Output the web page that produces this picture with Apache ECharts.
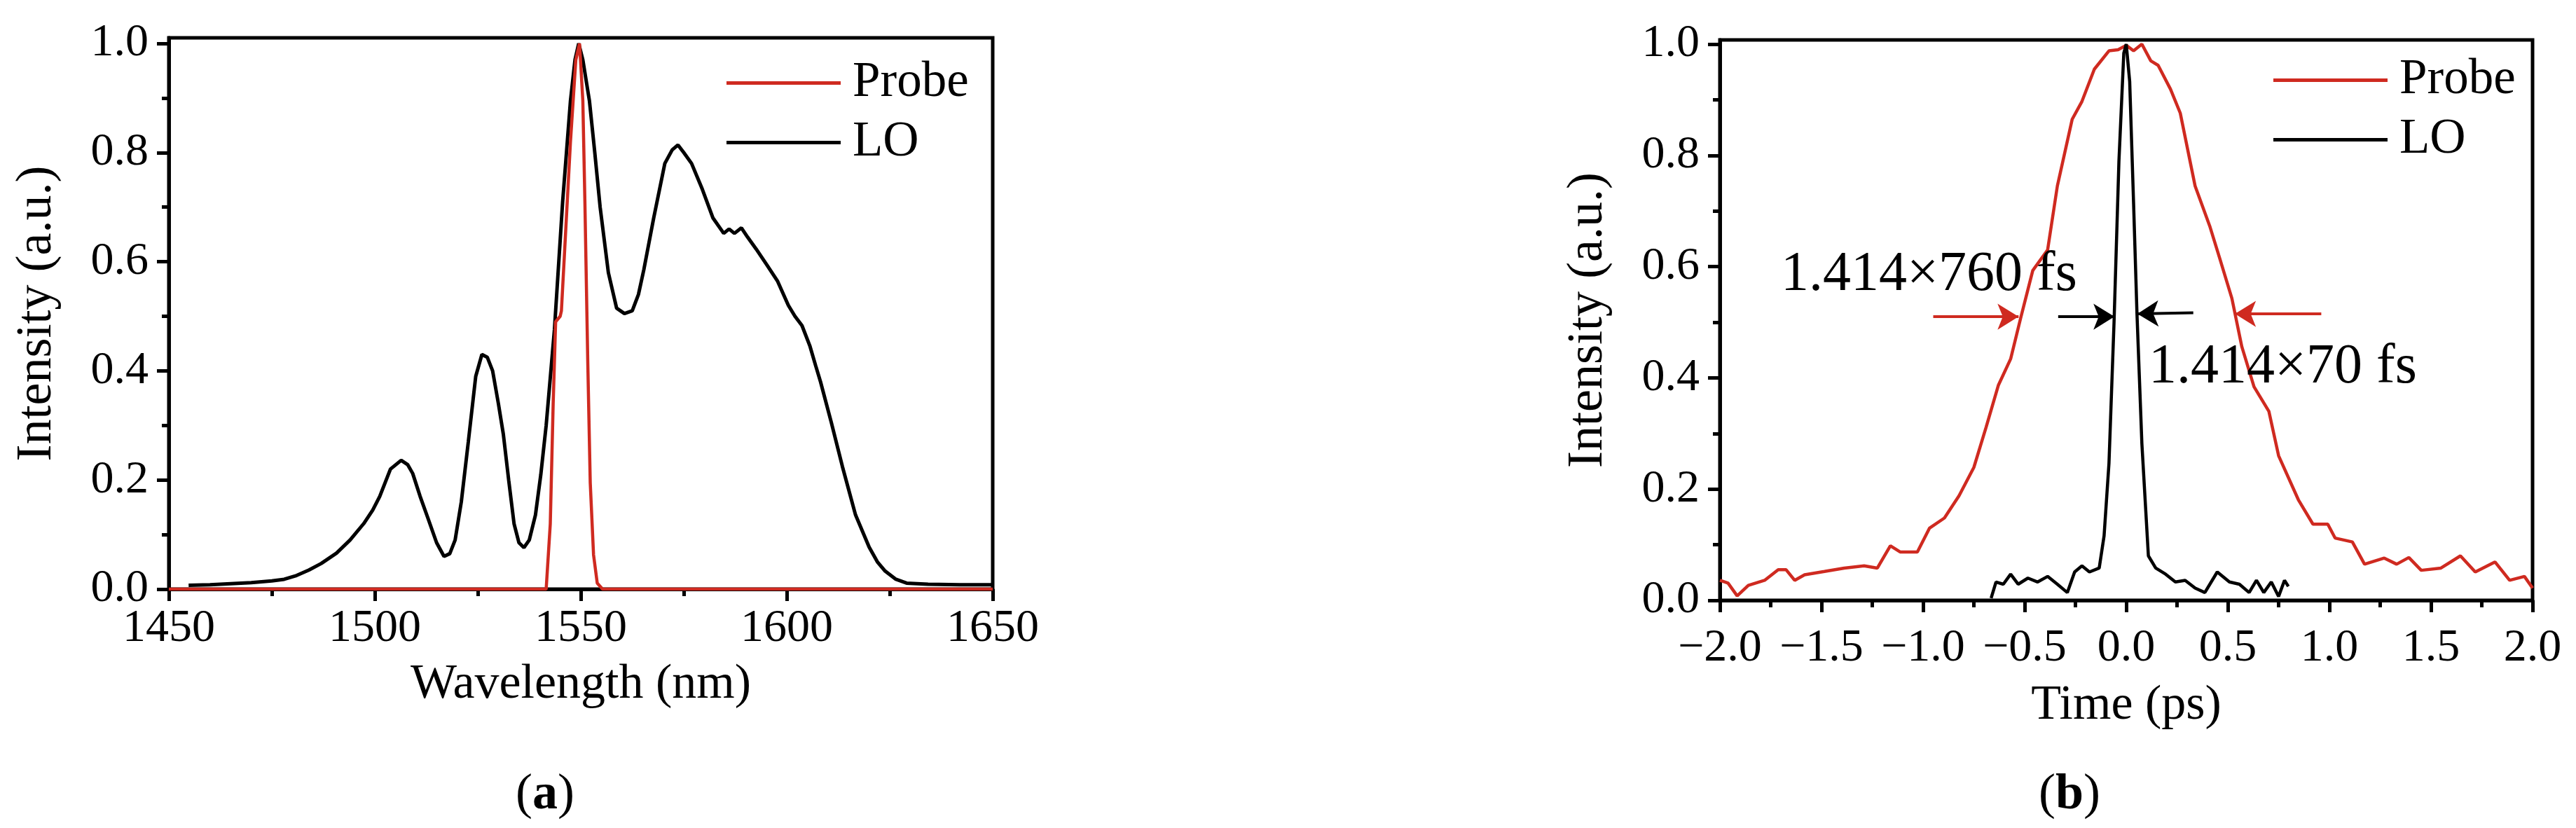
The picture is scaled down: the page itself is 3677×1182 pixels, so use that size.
<!DOCTYPE html>
<html>
<head>
<meta charset="utf-8">
<script src="https://cdn.jsdelivr.net/npm/echarts@6/dist/echarts.min.js"></script>
<style>
  html, body { margin: 0; padding: 0; background: #fff; }
  #chart { width: 3677px; height: 1182px; }
</style>
</head>
<body>
<div id="chart"></div>
<script>
// (a) spectra: [wavelength nm, intensity]
var spectrumLO = [
  [1454.8, 0.007], [1460, 0.008], [1465, 0.01], [1470, 0.012], [1475, 0.015], [1478, 0.018],
  [1481, 0.025], [1484, 0.035], [1487, 0.047], [1490.7, 0.066], [1494, 0.09], [1497.3, 0.12],
  [1499.5, 0.145], [1501.2, 0.17], [1503.8, 0.22], [1506.4, 0.236], [1508, 0.228], [1509.2, 0.212],
  [1511, 0.17], [1512.9, 0.13], [1515, 0.085], [1516.8, 0.06], [1518.2, 0.065], [1519.5, 0.09],
  [1521, 0.16], [1522.7, 0.27], [1524.5, 0.39], [1526, 0.43], [1527.3, 0.425], [1528.6, 0.4],
  [1530, 0.34], [1531.2, 0.284], [1532.5, 0.2], [1533.8, 0.12], [1535, 0.085], [1536.2, 0.076],
  [1537.5, 0.09], [1539, 0.136], [1540.3, 0.21], [1541.6, 0.3], [1543.6, 0.475], [1545.6, 0.71],
  [1547.5, 0.895], [1548.6, 0.97], [1549.5, 1.0], [1550.5, 0.97], [1552.1, 0.895], [1553.4, 0.8],
  [1554.7, 0.7], [1556.7, 0.58], [1558.7, 0.515], [1560.6, 0.505], [1562.5, 0.51], [1564, 0.54],
  [1565.3, 0.585], [1567.7, 0.68], [1570.4, 0.78], [1572.2, 0.805], [1573.6, 0.814], [1575, 0.8],
  [1576.9, 0.78], [1579.5, 0.733], [1582.1, 0.68], [1584.7, 0.652], [1586, 0.66], [1587.3, 0.652],
  [1589, 0.662], [1590.5, 0.645], [1592.6, 0.623], [1595.2, 0.594], [1597.8, 0.564], [1600.4, 0.52],
  [1602, 0.5], [1603.7, 0.483], [1605.6, 0.446], [1607, 0.41], [1608.2, 0.38], [1610.8, 0.306],
  [1613.5, 0.225], [1616.7, 0.136], [1620, 0.077], [1622, 0.05], [1623.9, 0.033], [1626.5, 0.018],
  [1629.1, 0.011], [1634.3, 0.009], [1642, 0.008], [1650, 0.008]
];
var spectrumProbe = [
  [1450, 0], [1541.6, 0], [1542.6, 0.12], [1543.3, 0.34], [1543.9, 0.49], [1545.0, 0.5],
  [1545.3, 0.51], [1546.2, 0.637], [1547.5, 0.82], [1548.8, 0.97], [1549.7, 1.0], [1550.5, 0.895],
  [1551, 0.71], [1551.7, 0.416], [1552.3, 0.195], [1553.1, 0.063], [1554, 0.011], [1555.3, 0],
  [1650, 0]
];

// (b) autocorrelation traces: [time ps, intensity]
var traceProbe = [
  [-2.0, 0.036], [-1.96, 0.031], [-1.915, 0.008], [-1.86, 0.027], [-1.78, 0.036], [-1.713, 0.055],
  [-1.674, 0.055], [-1.632, 0.036], [-1.583, 0.046], [-1.485, 0.052], [-1.388, 0.058], [-1.29, 0.062],
  [-1.225, 0.058], [-1.161, 0.098], [-1.113, 0.087], [-1.028, 0.087], [-0.968, 0.13], [-0.895, 0.148],
  [-0.823, 0.188], [-0.75, 0.239], [-0.69, 0.311], [-0.629, 0.387], [-0.569, 0.434], [-0.52, 0.507],
  [-0.46, 0.593], [-0.387, 0.63], [-0.339, 0.745], [-0.266, 0.865], [-0.218, 0.897], [-0.157, 0.955],
  [-0.085, 0.988], [-0.04, 0.99], [0, 0.998], [0.036, 0.988], [0.077, 1.0], [0.121, 0.97],
  [0.157, 0.962], [0.218, 0.919], [0.266, 0.876], [0.339, 0.745], [0.411, 0.673], [0.46, 0.615],
  [0.52, 0.543], [0.569, 0.456], [0.629, 0.384], [0.702, 0.34], [0.75, 0.26], [0.847, 0.181],
  [0.919, 0.137], [0.992, 0.137], [1.028, 0.112], [1.113, 0.105], [1.173, 0.065], [1.27, 0.076],
  [1.331, 0.065], [1.391, 0.077], [1.452, 0.054], [1.549, 0.058], [1.645, 0.08], [1.718, 0.051],
  [1.815, 0.069], [1.887, 0.036], [1.96, 0.043], [2.0, 0.022]
];
var traceLO = [
  [-0.665, 0.004], [-0.641, 0.033], [-0.605, 0.029], [-0.569, 0.047], [-0.532, 0.029], [-0.484, 0.04],
  [-0.436, 0.033], [-0.387, 0.043], [-0.339, 0.029], [-0.29, 0.014], [-0.254, 0.051], [-0.218, 0.062],
  [-0.181, 0.051], [-0.133, 0.058], [-0.109, 0.116], [-0.085, 0.246], [-0.06, 0.5], [-0.036, 0.789],
  [-0.012, 0.984], [0, 1.0], [0.017, 0.933], [0.036, 0.716], [0.053, 0.514], [0.077, 0.282],
  [0.109, 0.08], [0.145, 0.058], [0.194, 0.047], [0.242, 0.033], [0.29, 0.036], [0.339, 0.022],
  [0.387, 0.014], [0.448, 0.051], [0.508, 0.033], [0.557, 0.029], [0.605, 0.014], [0.641, 0.036],
  [0.677, 0.014], [0.714, 0.033], [0.75, 0.007], [0.779, 0.036], [0.798, 0.025]
];

// FWHM arrows [[tailX, y], [tipX, y]] and labels
var probeArrows = [[[-0.95, 0.51], [-0.53, 0.51]], [[0.96, 0.515], [0.535, 0.515]]];
var loArrows = [[[-0.335, 0.51], [-0.058, 0.51]], [[0.33, 0.517], [0.055, 0.515]]];
var probeNote = { text: '1.414×760 fs', at: [-1.70, 0.585] };
var loNote = { text: '1.414×70 fs', at: [0.11, 0.418] };

var yTicks = [0, 0.2, 0.4, 0.6, 0.8, 1.0];
var yMinor = [0.1, 0.3, 0.5, 0.7, 0.9];

var RED = '#cf2a20';
var FONT = 'Liberation Serif';
var INK = '#000';
var chart = echarts.init(document.getElementById('chart'));

function xAxisOf(grid, min, max, interval, name, gap, margin, fmt) {
  return {
    gridIndex: grid, type: 'value', min: min, max: max, interval: interval,
    name: name, nameLocation: 'middle', nameGap: gap,
    nameTextStyle: { fontFamily: FONT, fontSize: 70, color: INK },
    axisLine: { onZero: false, lineStyle: { color: '#000', width: 5 } },
    axisTick: { length: 17, lineStyle: { color: '#000', width: 5 } },
    minorTick: { show: true, splitNumber: 2, length: 10, lineStyle: { color: '#000', width: 5 } },
    axisLabel: { margin: margin, fontFamily: FONT, fontSize: 66, color: INK, formatter: fmt },
    splitLine: { show: false }
  };
}
function yAxisOf(grid, max) {
  return {
    gridIndex: grid, type: 'value', min: 0, max: max, position: 'left',
    name: 'Intensity (a.u.)', nameLocation: 'middle', nameGap: 152, nameRotate: 90,
    nameTextStyle: { fontFamily: FONT, fontSize: 72, color: INK },
    axisLine: { onZero: false, lineStyle: { color: '#000', width: 5 } },
    axisTick: { length: 17, customValues: yTicks, lineStyle: { color: '#000', width: 5 } },
    axisLabel: { margin: 29, customValues: yTicks, fontFamily: FONT, fontSize: 66, color: INK,
      formatter: function (v) { return v.toFixed(1); } },
    splitLine: { show: false }
  };
}
function yMinorOf(grid, max) {
  return {
    gridIndex: grid, type: 'value', min: 0, max: max, position: 'left', offset: 0,
    axisLine: { show: false, onZero: false },
    axisTick: { length: 10, customValues: yMinor, lineStyle: { color: '#000', width: 5 } },
    axisLabel: { show: false },
    splitLine: { show: false }
  };
}
function legendAt(left, top) {
  return {
    left: left, top: top, orient: 'vertical', data: ['Probe', 'LO'],
    icon: 'rect', itemWidth: 163, itemHeight: 5, itemGap: 14,
    selectedMode: false,
    textStyle: { fontFamily: FONT, fontSize: 71, color: INK, padding: [0, 0, 0, 12] }
  };
}
function arrowLines(list, color) {
  return {
    silent: true, symbol: ['none', 'arrow'], symbolSize: [28, 30], precision: 3,
    label: { show: false },
    lineStyle: { color: color, width: 4, type: 'solid' },
    data: list.map(function (a) { return [{ coord: a[0] }, { coord: a[1] }]; })
  };
}
function noteAt(note) {
  return {
    silent: true, symbol: 'circle', symbolSize: 0,
    label: { show: true, position: 'right', distance: 0, formatter: note.text,
      fontFamily: FONT, fontSize: 80, color: INK },
    data: [{ coord: note.at }]
  };
}
function panelLabel(x, letter) {
  return {
    type: 'text', x: x, y: 1135,
    style: {
      text: '{p|(}{b|' + letter + '}{p|)}', align: 'center', verticalAlign: 'middle',
      rich: {
        p: { fontFamily: FONT, fontSize: 72, fill: '#000' },
        b: { fontFamily: FONT, fontSize: 72, fontWeight: 'bold', fill: '#000' }
      }
    }
  };
}

chart.setOption({
  animation: false,
  backgroundColor: '#fff',
  grid: [
    { left: 241, top: 54, width: 1176, bottom: 341, show: true, borderColor: '#000', borderWidth: 5, outerBoundsMode: 'none' },
    { left: 2455, top: 57, width: 1160, bottom: 325, show: true, borderColor: '#000', borderWidth: 5, outerBoundsMode: 'none' }
  ],
  legend: [legendAt(1032, 78), legendAt(3240, 74)],
  xAxis: [
    xAxisOf(0, 1450, 1650, 50, 'Wavelength (nm)', 102, 24, function (v) { return String(v); }),
    xAxisOf(1, -2, 2, 0.5, 'Time (ps)', 116, 36, function (v) {
      return (v < 0 ? '\u2212' : '') + Math.abs(v).toFixed(1);
    })
  ],
  yAxis: [yAxisOf(0, 1.0103), yMinorOf(0, 1.0103), yAxisOf(1, 1.0076), yMinorOf(1, 1.0076)],
  series: [
    { name: 'LO', type: 'line', xAxisIndex: 0, yAxisIndex: 0, data: spectrumLO,
      showSymbol: false, color: '#000', lineStyle: { color: '#000', width: 5 } },
    { name: 'Probe', type: 'line', xAxisIndex: 0, yAxisIndex: 0, data: spectrumProbe,
      showSymbol: false, color: RED, lineStyle: { color: RED, width: 4.5 } },
    { name: 'Probe', type: 'line', xAxisIndex: 1, yAxisIndex: 2, data: traceProbe,
      showSymbol: false, color: RED, lineStyle: { color: RED, width: 4.5 },
      markLine: arrowLines(probeArrows, RED), markPoint: noteAt(probeNote) },
    { name: 'LO', type: 'line', xAxisIndex: 1, yAxisIndex: 2, data: traceLO,
      showSymbol: false, color: '#000', lineStyle: { color: '#000', width: 4.5 },
      markLine: arrowLines(loArrows, '#000'), markPoint: noteAt(loNote) }
  ],
  graphic: [panelLabel(778, 'a'), panelLabel(2954, 'b')]
});
</script>
</body>
</html>
